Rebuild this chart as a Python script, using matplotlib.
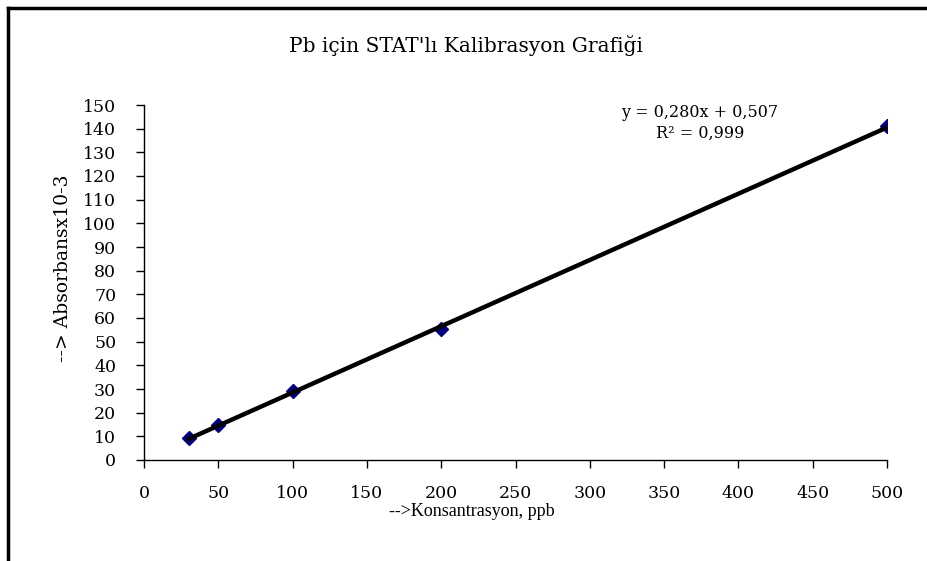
import numpy as np
from matplotlib import pyplot as plt
from matplotlib.lines import Line2D

# calibration data
konsantrasyon = [30, 50, 100, 200, 500]
absorbans = [9.3, 15.0, 29.0, 55.5, 141.0]

# trend line from the displayed equation
slope = 0.280
intercept = 0.507
fit_x = np.array([konsantrasyon[0], konsantrasyon[-1]])

xticks = np.arange(0, 501, 50)
yticks = np.arange(0, 151, 10)

W, H = 928, 561
plt.rcParams['font.family'] = ['Liberation Serif', 'DejaVu Serif']

fig = plt.figure(figsize=(W / 100, H / 100), dpi=100)
ax = fig.add_axes([144 / W, 1 - 460 / H, 743 / W, 355 / H])

ax.plot(fit_x, slope * fit_x + intercept, color='black', lw=3.2, zorder=3)
ax.plot(konsantrasyon, absorbans, linestyle='none', marker='D', ms=7,
        color='#000080', markeredgecolor='#000080', zorder=2)

ax.set_xlim(0, 500)
ax.set_ylim(0, 150)
ax.set_xticks(xticks)
ax.set_yticks(yticks)
ax.tick_params(direction='out', length=6, width=1, labelsize=12.5)
ax.tick_params(axis='x', pad=12)
ax.tick_params(axis='y', pad=14)
for lab in ax.get_xticklabels() + ax.get_yticklabels():
    lab.set_family('DejaVu Serif')
for s in ['top', 'right']:
    ax.spines[s].set_visible(False)
for s in ['left', 'bottom']:
    ax.spines[s].set_linewidth(1)

fig.text(472 / W, 1 - 511 / H, '-->Konsantrasyon, ppb', ha='center', va='center', fontsize=13)
fig.text(63 / W, 1 - 268 / H, '--> Absorbansx10-3', ha='center', va='center', rotation=90,
         fontsize=13.5, family='DejaVu Serif')
fig.text(466 / W, 1 - 45 / H, "Pb için STAT'lı Kalibrasyon Grafiği", ha='center', va='center',
         fontsize=14.5, family='DejaVu Serif')

fig.text(700 / W, 1 - 112 / H, 'y = 0,280x + 0,507', ha='center', va='center',
         fontsize=11.5, family='DejaVu Serif')
fig.text(700 / W, 1 - 133 / H, 'R² = 0,999', ha='center', va='center',
         fontsize=11.5, family='DejaVu Serif')

# outer frame (top and left edges visible)
fig.add_artist(Line2D([8 / W, 1], [1 - 8 / H, 1 - 8 / H], color='black', lw=2.5, transform=fig.transFigure))
fig.add_artist(Line2D([8.5 / W, 8.5 / W], [0, 1 - 8 / H], color='black', lw=2.5, transform=fig.transFigure))

fig.savefig('out.png', dpi=100)
